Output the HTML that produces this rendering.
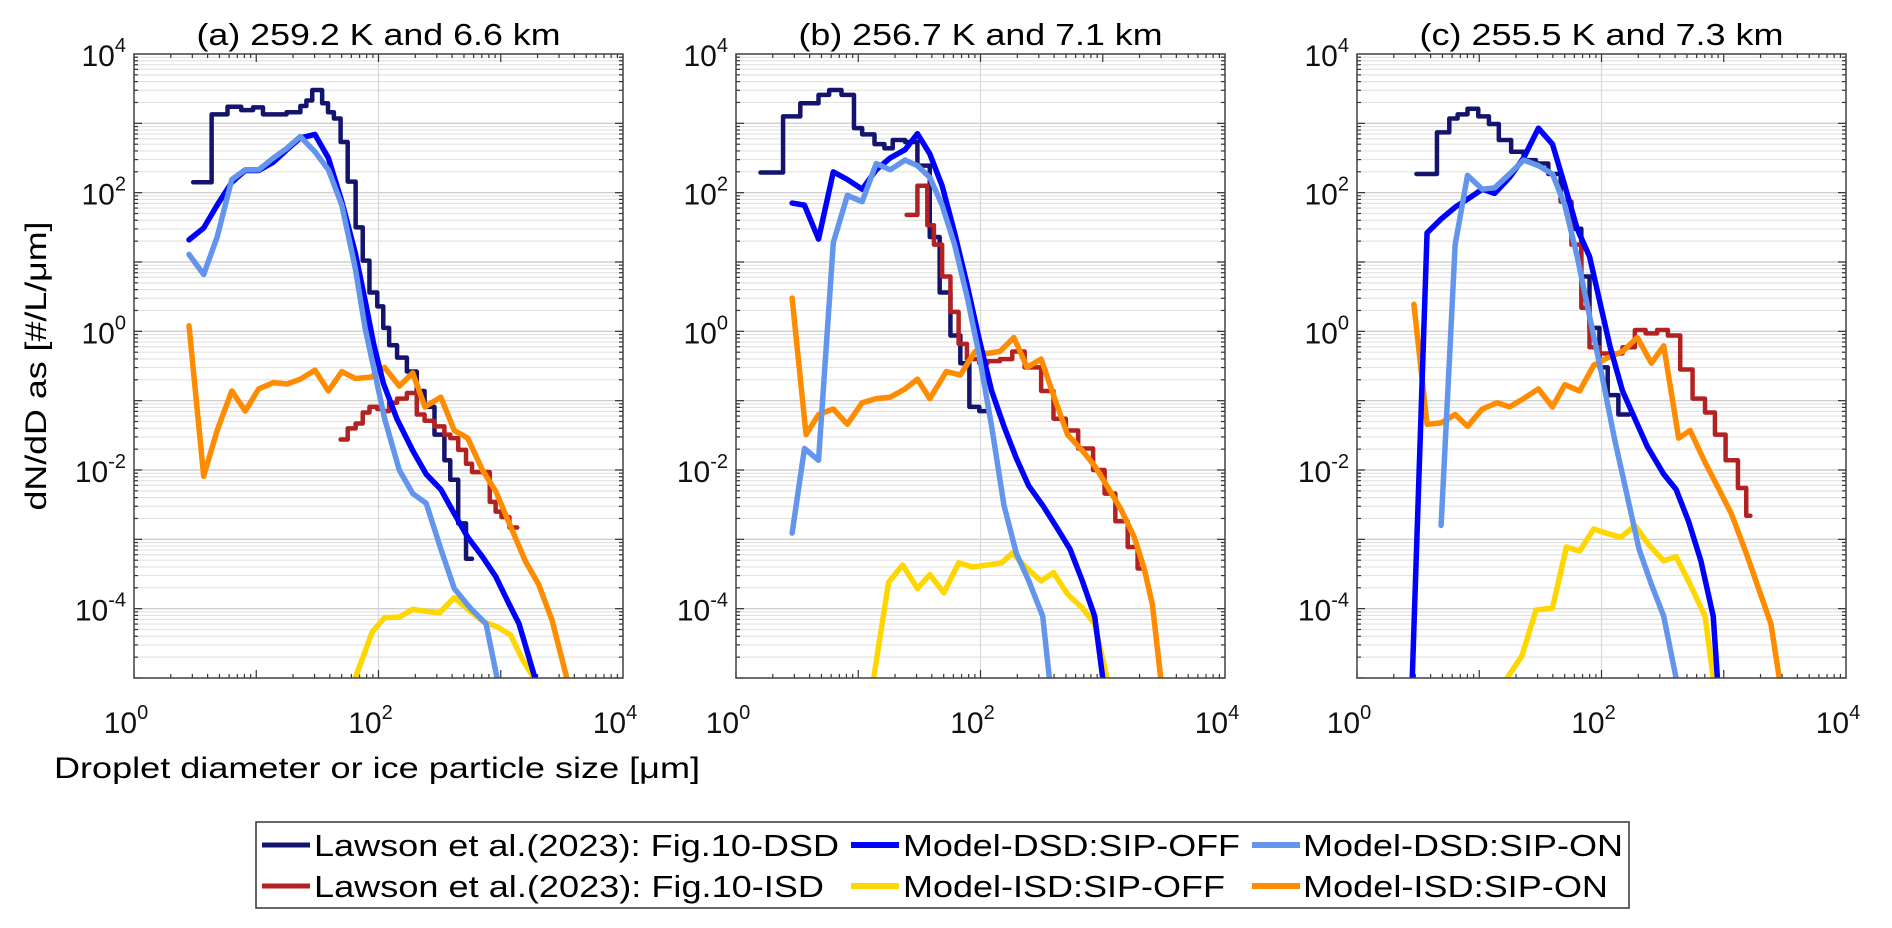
<!DOCTYPE html>
<html><head><meta charset="utf-8"><style>
html,body{margin:0;padding:0;background:#fff;}
svg{display:block;font-family:"Liberation Sans",Arial,sans-serif;}
</style></head><body>
<svg id="fig" width="1892" height="928" viewBox="0 0 1892 928" xmlns="http://www.w3.org/2000/svg">
<rect x="0" y="0" width="1892" height="928" fill="#fff"/>
<g id="panels"></g>
<text x="0" y="0" transform="translate(46,366) rotate(-90)" text-anchor="middle" font-size="30" fill="#000" textLength="289" lengthAdjust="spacingAndGlyphs">dN/dD as [#/L/μm]</text>
<text x="54" y="778" font-size="30" fill="#000" textLength="646" lengthAdjust="spacingAndGlyphs">Droplet diameter or ice particle size [μm]</text>
<g>
<rect x="256" y="822" width="1373" height="86" fill="#fff" stroke="#333" stroke-width="1.5"/>
<g><line x1="262" y1="845" x2="310" y2="845" stroke="#14146e" stroke-width="5"/><text x="314" y="856" font-size="31" textLength="525" lengthAdjust="spacingAndGlyphs">Lawson et al.(2023): Fig.10-DSD</text></g>
<g><line x1="851" y1="845" x2="899" y2="845" stroke="#0000ff" stroke-width="6"/><text x="903" y="856" font-size="31" textLength="337" lengthAdjust="spacingAndGlyphs">Model-DSD:SIP-OFF</text></g>
<g><line x1="1252" y1="845" x2="1300" y2="845" stroke="#6495ed" stroke-width="6"/><text x="1303" y="856" font-size="31" textLength="320" lengthAdjust="spacingAndGlyphs">Model-DSD:SIP-ON</text></g>
<g><line x1="262" y1="886" x2="310" y2="886" stroke="#b22222" stroke-width="5"/><text x="314" y="897" font-size="31" textLength="510" lengthAdjust="spacingAndGlyphs">Lawson et al.(2023): Fig.10-ISD</text></g>
<g><line x1="851" y1="886" x2="899" y2="886" stroke="#ffd700" stroke-width="6"/><text x="903" y="897" font-size="31" textLength="322" lengthAdjust="spacingAndGlyphs">Model-ISD:SIP-OFF</text></g>
<g><line x1="1252" y1="886" x2="1300" y2="886" stroke="#ff8c00" stroke-width="6"/><text x="1303" y="897" font-size="31" textLength="305" lengthAdjust="spacingAndGlyphs">Model-ISD:SIP-ON</text></g>
</g>
</svg>
<script>
// Data: log10(D [um]) and log10(dN/dD [#/L/um])
const titles = ["(a) 259.2 K and 6.6 km", "(b) 256.7 K and 7.1 km", "(c) 255.5 K and 7.3 km"];
const xTickExps = [0, 2, 4];
const yTickExps = [4, 2, 0, -2, -4];

// Panel a
const aObsDsdEdges = [0.484,0.635,0.765,0.877,0.974,1.055,1.248,1.361,1.41,1.458,1.539,1.587,1.635,1.69,1.748,1.813,1.871,1.926,1.99,2.039,2.087,2.152,2.232,2.313,2.377,2.458,2.539,2.587,2.652,2.716,2.765];
const aObsDsdVals = [2.15,3.13,3.24,3.19,3.23,3.13,3.16,3.25,3.33,3.48,3.29,3.16,3.07,2.73,2.16,1.50,1.02,0.56,0.36,0.05,-0.2,-0.38,-0.58,-0.86,-1.09,-1.49,-1.86,-2.14,-2.77,-3.28];
const aObsIsdEdges = [1.69,1.748,1.813,1.871,1.926,1.99,2.039,2.087,2.152,2.232,2.313,2.377,2.458,2.539,2.587,2.652,2.716,2.765,2.81,2.91,2.958,3.006,3.071,3.135];
const aObsIsdVals = [-1.56,-1.40,-1.33,-1.17,-1.09,-1.12,-1.15,-1.03,-0.97,-0.89,-1.2,-1.29,-1.37,-1.49,-1.54,-1.71,-1.91,-2.03,-2.03,-2.46,-2.6,-2.68,-2.83];
const aDsdOffD = [0.45,0.57,0.68,0.80,0.91,1.02,1.14,1.25,1.36,1.48,1.59,1.70,1.81,1.89,1.96,2.04,2.15,2.28,2.39,2.51,2.62,2.73,2.85,2.96,3.07,3.15,3.28];
const aDsdOffN = [1.32,1.49,1.82,2.15,2.32,2.32,2.44,2.62,2.79,2.84,2.50,1.87,1.13,0.45,-0.18,-0.75,-1.26,-1.72,-2.06,-2.28,-2.63,-2.97,-3.25,-3.54,-3.94,-4.22,-5.0];
const aDsdOnD = [0.45,0.57,0.68,0.80,0.91,1.02,1.14,1.25,1.36,1.48,1.59,1.70,1.81,1.89,1.96,2.05,2.17,2.28,2.39,2.51,2.62,2.75,2.88,2.97];
const aDsdOnN = [1.11,0.82,1.36,2.19,2.33,2.33,2.50,2.64,2.81,2.59,2.33,1.82,0.91,0.05,-0.52,-1.26,-2.0,-2.34,-2.48,-3.14,-3.71,-3.99,-4.22,-5.0];
const aIsdOnD = [0.45,0.57,0.68,0.80,0.91,1.02,1.14,1.25,1.36,1.48,1.59,1.70,1.81,1.94,2.05,2.17,2.28,2.38,2.51,2.62,2.73,2.85,2.96,3.07,3.20,3.31,3.42,3.54];
const aIsdOnN = [0.08,-2.09,-1.43,-0.86,-1.15,-0.83,-0.74,-0.76,-0.69,-0.56,-0.86,-0.58,-0.68,-0.66,-0.52,-0.79,-0.60,-1.09,-0.95,-1.43,-1.54,-2.0,-2.31,-2.77,-3.31,-3.65,-4.17,-5.0];
const aIsdOffD = [1.81,1.95,2.05,2.17,2.28,2.40,2.50,2.62,2.73,2.86,2.97,3.08,3.18,3.27];
const aIsdOffN = [-5.0,-4.33,-4.13,-4.12,-4.01,-4.04,-4.06,-3.84,-4.01,-4.19,-4.26,-4.38,-4.74,-5.0];

// Panel b
const bObsDsdEdges = [0.20,0.385,0.526,0.675,0.762,0.863,0.965,1.032,1.133,1.214,1.282,1.383,1.484,1.585,1.666,1.754,1.835,1.909,1.99,2.057];
const bObsDsdVals = [2.29,3.10,3.29,3.41,3.48,3.41,2.93,2.84,2.70,2.64,2.76,2.73,2.39,1.36,0.56,-0.06,-0.46,-1.09,-1.15];
const bObsIsdEdges = [1.396,1.484,1.565,1.619,1.686,1.754,1.821,1.889,1.99,2.057,2.159,2.26,2.361,2.496,2.597,2.698,2.799,2.921,3.015,3.103,3.204,3.285,3.339];
const bObsIsdVals = [1.68,2.10,1.53,1.25,0.79,0.28,-0.18,-0.40,-0.46,-0.43,-0.40,-0.29,-0.52,-0.86,-1.26,-1.43,-1.69,-2.0,-2.34,-2.74,-3.11,-3.42];
const bDsdOffD = [0.459,0.56,0.675,0.796,0.911,1.032,1.147,1.261,1.383,1.484,1.585,1.686,1.788,1.889,1.99,2.091,2.192,2.293,2.395,2.509,2.631,2.732,2.833,2.934,3.0];
const bDsdOffN = [1.85,1.82,1.33,2.30,2.19,2.05,2.33,2.50,2.62,2.85,2.56,2.10,1.42,0.68,-0.12,-0.86,-1.37,-1.83,-2.23,-2.51,-2.85,-3.14,-3.60,-4.11,-5.0];
const bDsdOnD = [0.459,0.56,0.675,0.796,0.911,1.032,1.147,1.261,1.383,1.484,1.585,1.686,1.788,1.889,1.99,2.091,2.192,2.293,2.395,2.509,2.563];
const bDsdOnN = [-2.91,-1.69,-1.86,1.28,1.96,1.87,2.42,2.33,2.47,2.39,2.22,1.82,1.25,0.51,-0.35,-1.37,-2.51,-3.20,-3.60,-4.11,-5.0];
const bIsdOnD = [0.459,0.573,0.675,0.796,0.911,1.032,1.147,1.261,1.383,1.484,1.585,1.72,1.835,1.956,2.057,2.159,2.273,2.381,2.496,2.597,2.712,2.833,2.934,3.035,3.15,3.258,3.339,3.406,3.474];
const bIsdOnN = [0.48,-1.49,-1.20,-1.12,-1.34,-1.03,-0.97,-0.95,-0.83,-0.69,-0.97,-0.58,-0.63,-0.29,-0.32,-0.29,-0.09,-0.52,-0.40,-0.92,-1.49,-1.72,-1.94,-2.23,-2.57,-2.97,-3.42,-3.94,-5.0];
const bIsdOffD = [1.126,1.248,1.363,1.484,1.585,1.70,1.821,1.936,2.057,2.172,2.26,2.381,2.496,2.597,2.712,2.833,2.934,3.035];
const bIsdOffN = [-5.0,-3.62,-3.37,-3.71,-3.51,-3.77,-3.34,-3.40,-3.37,-3.34,-3.20,-3.42,-3.60,-3.48,-3.79,-3.99,-4.22,-5.0];

// Panel c
const cObsDsdEdges = [0.486,0.654,0.755,0.823,0.904,0.992,1.079,1.16,1.261,1.363,1.464,1.565,1.666,1.754,1.835,1.902,1.983,2.051,2.138,2.226];
const cObsDsdVals = [2.27,2.87,3.07,3.13,3.21,3.10,2.99,2.76,2.59,2.47,2.42,2.27,1.87,1.48,0.79,0.05,-0.52,-0.92,-1.2];
const cObsIsdEdges = [1.666,1.754,1.835,1.902,1.983,2.071,2.172,2.273,2.361,2.455,2.543,2.644,2.745,2.847,2.928,3.015,3.116,3.184,3.218];
const cObsIsdVals = [1.87,1.25,0.34,-0.23,-0.32,-0.32,-0.23,0.02,-0.03,0.02,-0.06,-0.55,-0.97,-1.17,-1.49,-1.86,-2.26,-2.66];
const cDsdOffD = [0.452,0.573,0.688,0.803,0.924,1.025,1.126,1.248,1.363,1.484,1.599,1.70,1.801,1.902,1.983,2.071,2.172,2.273,2.374,2.509,2.610,2.712,2.813,2.914,2.948];
const cDsdOffN = [-5.0,1.42,1.62,1.79,1.93,2.05,1.99,2.22,2.50,2.93,2.70,2.10,1.48,1.08,0.45,-0.23,-0.86,-1.26,-1.66,-2.06,-2.28,-2.74,-3.31,-4.11,-5.0];
const cDsdOnD = [0.688,0.803,0.904,1.025,1.126,1.248,1.363,1.484,1.599,1.70,1.801,1.902,2.003,2.105,2.206,2.307,2.408,2.509,2.610];
const cDsdOnN = [-2.80,1.25,2.25,2.05,2.07,2.27,2.47,2.39,2.27,1.82,1.08,0.22,-0.63,-1.54,-2.34,-3.14,-3.65,-4.11,-5.0];
const cIsdOnD = [0.465,0.573,0.688,0.803,0.904,1.025,1.147,1.248,1.363,1.484,1.599,1.70,1.821,1.936,2.051,2.172,2.293,2.408,2.509,2.631,2.725,2.847,2.961,3.062,3.184,3.285,3.386,3.454];
const cIsdOnN = [0.39,-1.34,-1.32,-1.20,-1.37,-1.12,-1.03,-1.09,-0.97,-0.83,-1.09,-0.77,-0.86,-0.49,-0.38,-0.29,-0.09,-0.46,-0.21,-1.54,-1.43,-1.89,-2.28,-2.63,-3.20,-3.71,-4.22,-5.0];
const cIsdOffD = [1.228,1.349,1.464,1.599,1.713,1.821,1.936,2.037,2.159,2.273,2.388,2.509,2.61,2.725,2.847,2.914];
const cIsdOffN = [-5.0,-4.68,-4.02,-3.99,-3.11,-3.17,-2.85,-2.91,-2.97,-2.80,-3.08,-3.31,-3.25,-3.65,-4.11,-5.0];

const panelData = [
  {obsDsdE:aObsDsdEdges,obsDsdV:aObsDsdVals,obsIsdE:aObsIsdEdges,obsIsdV:aObsIsdVals,offD:aDsdOffD,offN:aDsdOffN,onD:aDsdOnD,onN:aDsdOnN,isdOnD:aIsdOnD,isdOnN:aIsdOnN,isdOffD:aIsdOffD,isdOffN:aIsdOffN},
  {obsDsdE:bObsDsdEdges,obsDsdV:bObsDsdVals,obsIsdE:bObsIsdEdges,obsIsdV:bObsIsdVals,offD:bDsdOffD,offN:bDsdOffN,onD:bDsdOnD,onN:bDsdOnN,isdOnD:bIsdOnD,isdOnN:bIsdOnN,isdOffD:bIsdOffD,isdOffN:bIsdOffN},
  {obsDsdE:cObsDsdEdges,obsDsdV:cObsDsdVals,obsIsdE:cObsIsdEdges,obsIsdV:cObsIsdVals,offD:cDsdOffD,offN:cDsdOffN,onD:cDsdOnD,onN:cDsdOnN,isdOnD:cIsdOnD,isdOnN:cIsdOnN,isdOffD:cIsdOffD,isdOffN:cIsdOffN}
];

const NS = "http://www.w3.org/2000/svg";
const lefts = [134, 736, 1357];
const W = 489, TOP = 54, BOT = 678;
const XMIN = 0, XMAX = 4, YMIN = -5, YMAX = 4;
function mk(tag, attrs, parent) {
  const e = document.createElementNS(NS, tag);
  for (const k in attrs) e.setAttribute(k, attrs[k]);
  parent.appendChild(e);
  return e;
}
const root = document.getElementById("panels");
const names = ["a","b","c"];

panelData.forEach((d, i) => {
  const L = lefts[i];
  const xs = v => L + (v - XMIN) / (XMAX - XMIN) * W;
  const ys = v => TOP + (YMAX - v) / (YMAX - YMIN) * (BOT - TOP);
  const g = mk("g", {}, root);
  
  
  mk("rect", {x:L, y:TOP, width:W, height:BOT-TOP, fill:"#fff"}, g);
  const grid = mk("g", {}, g);
  
  
  for (let e = YMIN; e < YMAX; e++) {
    for (let m = 1; m < 10; m++) {
      const v = e + Math.log10(m);
      if (v <= YMIN) continue;
      mk("line", {x1:L, x2:L+W, y1:ys(v), y2:ys(v), stroke: m===1 ? "#cfcfcf" : "#e3e3e3", "stroke-width": m===1 ? 1.4 : 1.2}, grid);
    }
  }
  mk("line", {x1:xs(2), x2:xs(2), y1:TOP, y2:BOT, stroke:"#d8d8d8", "stroke-width":1.2}, grid);
  const tk = mk("g", {stroke:"#333", "stroke-width":1.2}, g);
  for (let e = XMIN; e < XMAX; e++) {
    for (let m = 1; m < 10; m++) {
      const v = e + Math.log10(m);
      const len = m === 1 ? 8 : 4;
      mk("line", {x1:xs(v), x2:xs(v), y1:BOT, y2:BOT-len}, tk);
      mk("line", {x1:xs(v), x2:xs(v), y1:TOP, y2:TOP+len}, tk);
    }
  }
  for (let e = YMIN; e < YMAX; e++) {
    for (let m = 1; m < 10; m++) {
      const v = e + Math.log10(m);
      const len = m === 1 ? 8 : 4;
      mk("line", {x1:L, x2:L+len, y1:ys(v), y2:ys(v)}, tk);
      mk("line", {x1:L+W, x2:L+W-len, y1:ys(v), y2:ys(v)}, tk);
    }
  }
  const cp = mk("clipPath", {id:"clip"+i}, g);
  mk("rect", {x:L, y:TOP, width:W, height:BOT-TOP}, cp);
  const series = mk("g", {"clip-path":"url(#clip"+i+")", fill:"none", "stroke-linejoin":"round", "stroke-linecap":"round"}, g);
  function stepPath(E, V) {
    let p = "M" + xs(E[0]) + "," + ys(V[0]);
    for (let k = 0; k < V.length; k++) {
      p += " H" + xs(E[k+1]);
      if (k + 1 < V.length) p += " V" + ys(V[k+1]);
    }
    return p;
  }
  function linePath(X, Y) {
    return X.map((v, k) => (k ? "L" : "M") + xs(v) + "," + ys(Y[k])).join(" ");
  }
  const s1 = mk("path", {d: stepPath(d.obsDsdE, d.obsDsdV), stroke:"#14146e", "stroke-width":4.5}, series);
  
  
  const s2 = mk("path", {d: stepPath(d.obsIsdE, d.obsIsdV), stroke:"#b22222", "stroke-width":4.5}, series);
  
  
  const s3 = mk("path", {d: linePath(d.isdOnD, d.isdOnN), stroke:"#ff8c00", "stroke-width":5.5}, series);
  
  
  const s4 = mk("path", {d: linePath(d.isdOffD, d.isdOffN), stroke:"#ffd700", "stroke-width":5.5}, series);
  
  
  const s5 = mk("path", {d: linePath(d.offD, d.offN), stroke:"#0000ff", "stroke-width":5.5}, series);
  
  
  const s6 = mk("path", {d: linePath(d.onD, d.onN), stroke:"#6495ed", "stroke-width":5.5}, series);
  
  
  mk("rect", {x:L, y:TOP, width:W, height:BOT-TOP, fill:"none", stroke:"#404040", "stroke-width":1.5}, g);
  xTickExps.forEach(e => {
    const t = mk("text", {x:xs(e)-8, y:733, "text-anchor":"middle", "font-size":30, fill:"#111"}, g);
    
    
    t.textContent = "10";
    const s = mk("tspan", {dy:-14, "font-size":20}, t);
    s.textContent = String(e);
  });
  yTickExps.forEach(e => {
    const t = mk("text", {x:L-8, y:ys(e)+12, "text-anchor":"end", "font-size":30, fill:"#111"}, g);
    
    
    t.textContent = "10";
    const s = mk("tspan", {dy:-14, "font-size":20}, t);
    s.textContent = String(e);
  });
  const tt = mk("text", {x:L+W/2, y:45, "text-anchor":"middle", "font-size":31, fill:"#000", textLength:364, lengthAdjust:"spacingAndGlyphs"}, g);
  
  
  tt.textContent = titles[i];
});
</script>
</body></html>
